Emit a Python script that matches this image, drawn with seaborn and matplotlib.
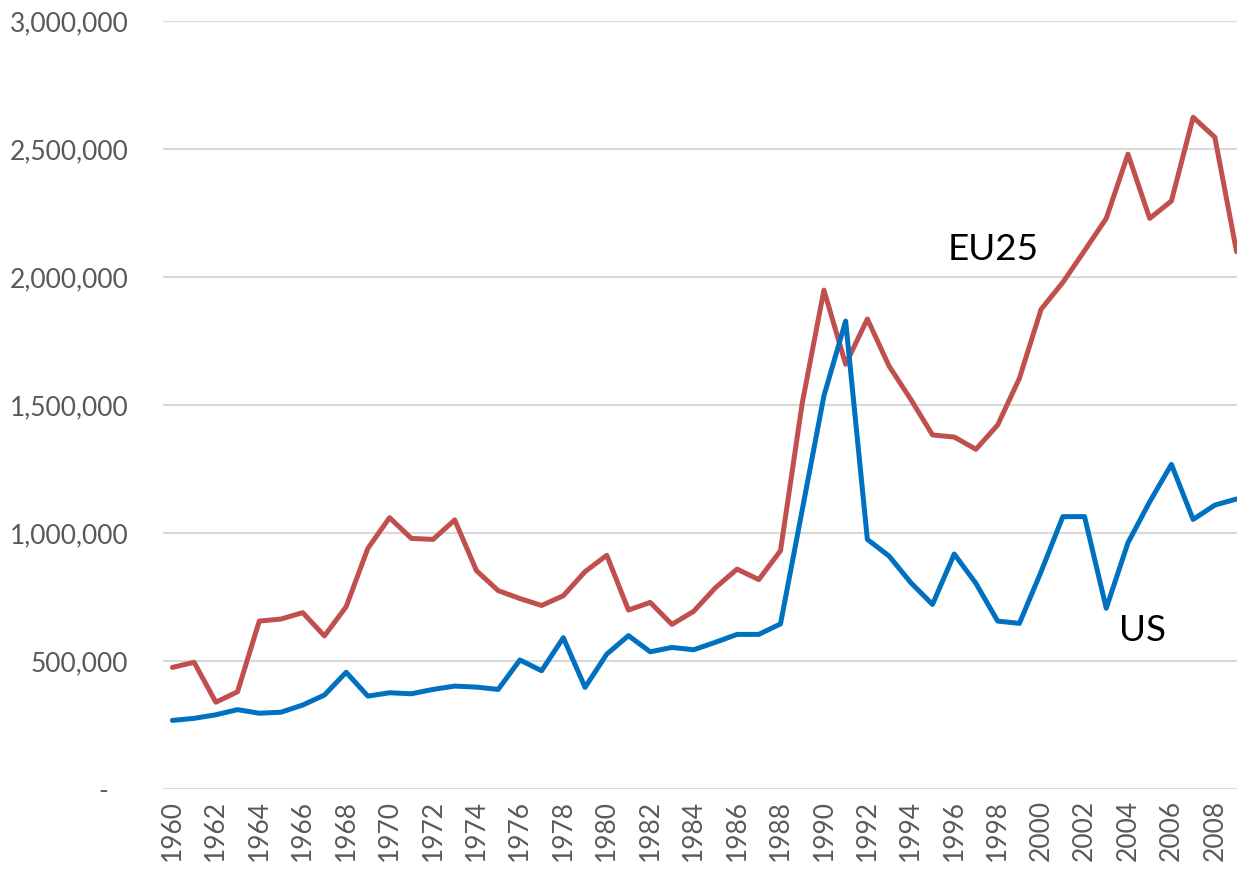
import matplotlib
matplotlib.use("Agg")
import matplotlib.pyplot as plt
import seaborn as sns
import pandas as pd
import numpy as np
from matplotlib.ticker import FuncFormatter, MultipleLocator

years = list(range(1960, 2010))

eu25 = [475000, 495000, 339000, 380000, 656000, 664000, 689000, 598000, 712000, 940000,
        1060000, 979000, 975000, 1051000, 853000, 775000, 744000, 717000, 755000, 849000,
        913000, 699000, 729000, 643000, 694000, 786000, 859000, 818000, 931000, 1507000,
        1949000, 1659000, 1836000, 1652000, 1522000, 1383000, 1375000, 1327000, 1422000, 1604000,
        1874000, 1979000, 2103000, 2229000, 2480000, 2229000, 2297000, 2624000, 2546000, 2099000]

us = [268000, 276000, 290000, 310000, 296000, 300000, 328000, 367000, 456000, 363000,
      376000, 372000, 389000, 402000, 398000, 389000, 504000, 462000, 591000, 397000,
      527000, 599000, 536000, 553000, 544000, 573000, 604000, 604000, 645000, 1090000,
      1536000, 1828000, 975000, 910000, 806000, 721000, 918000, 803000, 656000, 647000,
      849000, 1064000, 1064000, 706000, 962000, 1122000, 1268000, 1053000, 1109000, 1133000]

series_names = ["EU25", "US"]
colors = {"EU25": "#C0504D", "US": "#0070C0"}

df = pd.DataFrame({
    "year": years * 2,
    "value": eu25 + us,
    "series": ["EU25"] * len(years) + ["US"] * len(years),
})

sns.set_style("white")
plt.rcParams["font.family"] = ["Lato", "DejaVu Sans"]

fig = plt.figure(figsize=(12.37, 8.8), dpi=100)
ax = fig.add_axes([0.132, 0.1034, 0.868, 0.8727])

sns.lineplot(data=df, x="year", y="value", hue="series", palette=colors,
             linewidth=3.6, ax=ax, legend=False, solid_capstyle="round")

ax.set_xlim(1959.58, 2009.02)
ax.set_ylim(0, 3000000)
ax.yaxis.set_major_locator(MultipleLocator(500000))
ax.xaxis.set_major_locator(MultipleLocator(2))
ax.yaxis.set_major_formatter(FuncFormatter(lambda v, p: "-   " if v == 0 else f"{v:,.0f}"))
ax.xaxis.set_major_formatter(FuncFormatter(lambda v, p: f"{int(v)}"))

ax.grid(axis="y", color="#D9D9D9", linewidth=1.5)
ax.grid(axis="x", visible=False)
ax.set_axisbelow(True)
for s in ["top", "right", "left", "bottom"]:
    ax.spines[s].set_visible(False)

ax.tick_params(axis="y", length=0, pad=25, labelsize=19, labelcolor="#595959")
ax.tick_params(axis="x", length=0, pad=8, labelsize=19, labelcolor="#595959", rotation=90)
ax.set_xlabel("")
ax.set_ylabel("")

ax.text(1997.8, 2107000, "EU25", fontsize=26.5, color="black", ha="center", va="center")
ax.text(2004.65, 620000, "US", fontsize=26.5, color="black", ha="center", va="center")

fig.savefig("out.png", dpi=100)
